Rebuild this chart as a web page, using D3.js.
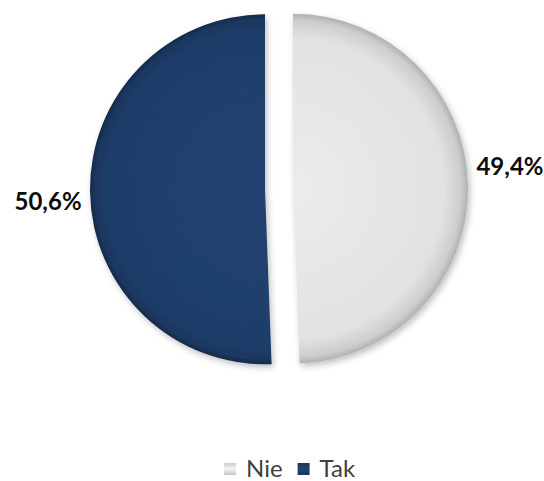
<!DOCTYPE html>
<html>
<head>
<meta charset="utf-8">
<script src="https://cdn.jsdelivr.net/npm/d3@7"></script>
<style>
  body { margin: 0; background: #fff; }
  svg { display: block; }
</style>
</head>
<body>
<div id="chart"></div>
<script>
const categories = ["Nie", "Tak"];
const values = [49.4, 50.6];
const valueLabels = ["49,4%", "50,6%"];

const W = 544, H = 481;
const cx = 279, cy = 189, R = 175, explode = 14;
const colors = { Nie: "#e3e3e3", Tak: "#1f3e6b" };
const labelShift = { Nie: -18, Tak: 8 };

const svg = d3.select("#chart").append("svg")
  .attr("width", W)
  .attr("height", H);

const defs = svg.append("defs");

// radial shading so the slices get that bevelled look
const grads = {
  Nie: [["0%", "#ececec"], ["86%", "#e2e2e2"], ["96%", "#cdcdcd"], ["100%", "#b0b0b0"]],
  Tak: [["0%", "#21416f"], ["88%", "#1f3e6b"], ["97%", "#1b375f"], ["100%", "#142a4a"]]
};
Object.keys(grads).forEach(k => {
  const g = defs.append("radialGradient")
    .attr("id", "grad-" + k)
    .attr("gradientUnits", "userSpaceOnUse")
    .attr("cx", 0).attr("cy", 0).attr("r", R);
  grads[k].forEach(s => g.append("stop").attr("offset", s[0]).attr("stop-color", s[1]));
});

defs.append("filter")
  .attr("id", "shadow")
  .attr("x", "-20%").attr("y", "-20%").attr("width", "140%").attr("height", "140%")
  .append("feDropShadow")
  .attr("dx", 2).attr("dy", 3)
  .attr("stdDeviation", 3)
  .attr("flood-color", "#000")
  .attr("flood-opacity", 0.25);

const pie = d3.pie().sort(null).value(d => d.value);
const data = pie(categories.map((c, i) => ({ cat: c, value: values[i], label: valueLabels[i] })));

const arc = d3.arc().innerRadius(0).outerRadius(R);
const labelArc = d3.arc().innerRadius(R + 56).outerRadius(R + 56);

const g = svg.append("g").attr("transform", `translate(${cx},${cy})`);

const slice = g.selectAll(".slice")
  .data(data)
  .join("g")
  .attr("class", "slice")
  .attr("transform", d => {
    const a = (d.startAngle + d.endAngle) / 2;
    return `translate(${Math.sin(a) * explode},${-Math.cos(a) * explode})`;
  });

slice.append("path")
  .attr("d", arc)
  .attr("fill", d => `url(#grad-${d.data.cat})`)
  .attr("filter", "url(#shadow)");

g.selectAll(".lbl")
  .data(data)
  .join("text")
  .attr("class", "lbl")
  .attr("transform", d => {
    const p = labelArc.centroid(d);
    return `translate(${p[0]},${p[1] + labelShift[d.data.cat]})`;
  })
  .attr("text-anchor", "middle")
  .attr("dy", "0.35em")
  .style("font-family", "Lato, 'Open Sans', sans-serif")
  .style("font-weight", "bold")
  .style("font-size", "24px")
  .style("fill", "#0d0d0d")
  .text(d => d.data.label);

// legend
["Nie", "Tak"].forEach(k => {
  const lg = defs.append("linearGradient").attr("id", "lg-" + k)
    .attr("x1", 0).attr("y1", 0).attr("x2", 0).attr("y2", 1);
  const c = d3.color(colors[k]);
  lg.append("stop").attr("offset", "0%").attr("stop-color", c.darker(0.3));
  lg.append("stop").attr("offset", "50%").attr("stop-color", c.brighter(0.2));
  lg.append("stop").attr("offset", "100%").attr("stop-color", c.darker(0.4));
});

const legend = svg.append("g").attr("class", "legend");
const items = legend.selectAll(".item")
  .data(categories)
  .join("g")
  .attr("class", "item");

items.append("rect")
  .attr("width", 12).attr("height", 12)
  .attr("y", -14)
  .attr("fill", d => `url(#lg-${d})`);

items.append("text")
  .attr("x", 22)
  .style("font-family", "Lato, 'Open Sans', sans-serif")
  .style("font-size", "24px")
  .style("fill", "#404040")
  .text(d => d);

let xpos = 0;
items.each(function() {
  const w = this.getBBox().width;
  d3.select(this).attr("transform", `translate(${xpos},0)`);
  xpos += w + 15;
});
const total = xpos - 15;
legend.attr("transform", `translate(${290 - total / 2},477)`);
</script>
</body>
</html>
